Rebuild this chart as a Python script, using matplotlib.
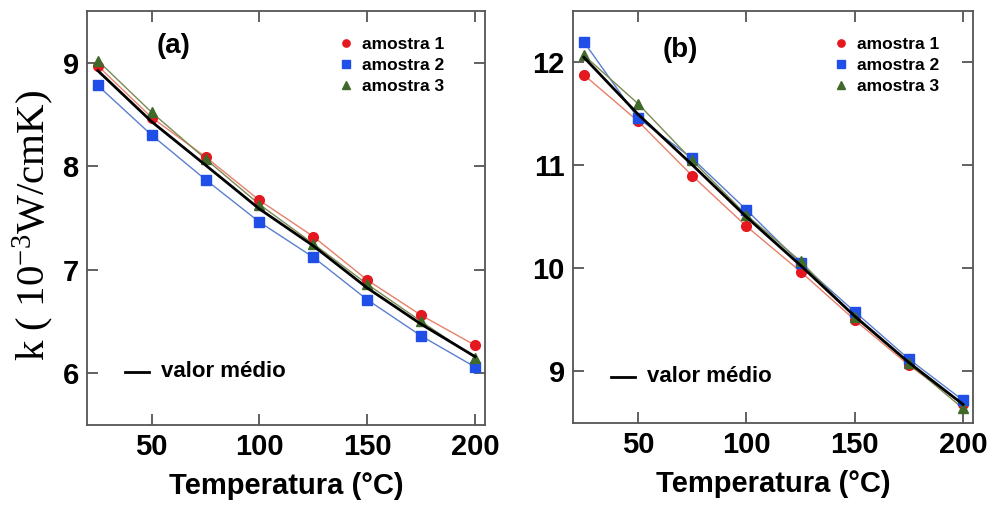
import matplotlib.pyplot as plt
import numpy as np

temps = [25, 50, 75, 100, 125, 150, 175, 200]

# painel (a)
a_amostra1 = [8.97, 8.47, 8.09, 7.67, 7.32, 6.90, 6.56, 6.27]
a_amostra2 = [8.78, 8.30, 7.87, 7.46, 7.12, 6.71, 6.36, 6.06]
a_amostra3 = [9.02, 8.52, 8.07, 7.63, 7.25, 6.86, 6.50, 6.15]

# painel (b)
b_amostra1 = [11.88, 11.43, 10.90, 10.41, 9.97, 9.50, 9.06, 8.68]
b_amostra2 = [12.20, 11.46, 11.07, 10.57, 10.05, 9.58, 9.12, 8.72]
b_amostra3 = [12.07, 11.60, 11.05, 10.52, 10.07, 9.53, 9.08, 8.64]

labels = ['amostra 1', 'amostra 2', 'amostra 3']
markers = ['o', 's', '^']
mcolors = ['#e5171f', '#1f4fe6', '#3f6a2a']
lcolors = ['#e8806a', '#5a7fd0', '#7a8a55']

plt.rcParams['font.family'] = ['Liberation Sans', 'DejaVu Sans']
plt.rcParams['mathtext.fontset'] = 'custom'
plt.rcParams['mathtext.rm'] = 'Liberation Serif'
plt.rcParams['mathtext.it'] = 'Liberation Serif:italic'

fig = plt.figure(figsize=(9.9, 5.12), dpi=100)
axA = fig.add_axes([0.0879, 0.170, 0.402, 0.8086])
axB = fig.add_axes([0.5788, 0.174, 0.404, 0.8046])


def draw_panel(ax, series, ylim, yticks, tag, tagpos, legpos, medpos):
    for s, m, mc, lc, lab in zip(series, markers, mcolors, lcolors, labels):
        ax.plot(temps, s, color=lc, lw=1.0, zorder=2)
        ax.plot(temps, s, ls='none', marker=m, ms=7, color=mc, zorder=3, label=lab)
    media = np.mean(series, axis=0)
    ax.plot(temps, media, color='black', lw=2.0, zorder=4)

    ax.set_xlim(20, 204.6)
    ax.set_ylim(*ylim)
    ax.set_xticks([50, 100, 150, 200])
    ax.set_yticks(yticks)
    ax.tick_params(direction='in', length=8, width=1.3, color='#555555',
                   top=True, right=True, labelsize=21, pad=6)
    for lbl in ax.get_xticklabels() + ax.get_yticklabels():
        lbl.set_fontweight('bold')
    for sp in ax.spines.values():
        sp.set_color('#555555')
        sp.set_linewidth(1.3)
    ax.set_xlabel('Temperatura (°C)', fontsize=21, fontweight='bold', labelpad=8)

    ax.text(tagpos[0], tagpos[1], tag, transform=ax.transAxes, fontsize=20,
            fontweight='bold', ha='left', va='center')

    leg = ax.legend(loc='upper left', bbox_to_anchor=legpos, frameon=False,
                    fontsize=12.5, handlelength=0.6, handletextpad=0.6,
                    labelspacing=0.35, markerscale=0.75, borderaxespad=0)
    for t in leg.get_texts():
        t.set_fontweight('bold')

    ax.plot([medpos[0], medpos[0] + 0.06], [medpos[1], medpos[1]],
            transform=ax.transAxes, color='black', lw=2)
    ax.text(medpos[0] + 0.09, medpos[1], 'valor médio', transform=ax.transAxes,
            fontsize=16, fontweight='bold', va='center', ha='left')


draw_panel(axA, [a_amostra1, a_amostra2, a_amostra3], (5.5, 9.5), [6, 7, 8, 9],
           '(a)', (0.175, 0.915), (0.62, 0.955), (0.095, 0.128))
draw_panel(axB, [b_amostra1, b_amostra2, b_amostra3], (8.5, 12.5), [9, 10, 11, 12],
           '(b)', (0.225, 0.905), (0.64, 0.955), (0.095, 0.112))

fig.text(0.034, 0.56, 'k ( 10$^{-3}$W/cmK)', rotation=90, ha='center', va='center',
         fontsize=29.5, family='Liberation Serif')

fig.savefig('out.png', dpi=100)
